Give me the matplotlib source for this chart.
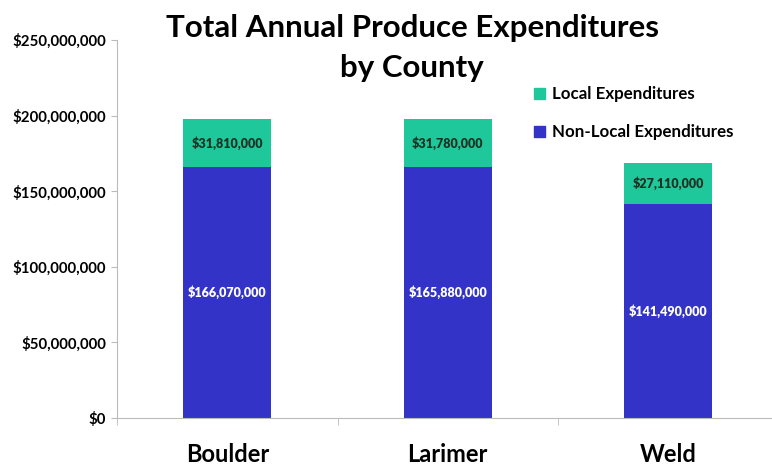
import numpy as np
import matplotlib.pyplot as plt
from matplotlib.patches import Patch
from matplotlib.ticker import FuncFormatter

# ----------------------------
# Data
# ----------------------------
counties = ["Boulder", "Larimer", "Weld"]
non_local = [166070000, 165880000, 141490000]
local = [31810000, 31780000, 27110000]

C_LOCAL = "#1fc89b"
C_NONLOCAL = "#3333c8"
FONT = ["Lato", "DejaVu Sans"]

plt.rcParams["font.family"] = FONT
plt.rcParams["font.weight"] = "bold"

fig = plt.figure(figsize=(7.72, 4.66), dpi=100)
ax = fig.add_axes([117 / 772, 1 - 418 / 466, (778.5 - 117) / 772, (418 - 40) / 466])

x = np.arange(len(counties))
w = 0.4
ax.bar(x, non_local, w, color=C_NONLOCAL, label="Non-Local Expenditures")
ax.bar(x, local, w, bottom=non_local, color=C_LOCAL, label="Local Expenditures")

# data labels
for xi, nl, lo in zip(x, non_local, local):
    ax.text(xi, nl / 2, f"${nl:,.0f}", ha="center", va="center",
            color="white", fontsize=9, fontweight="heavy")
    ax.text(xi, nl + lo / 2, f"${lo:,.0f}", ha="center", va="center",
            color="#1c3324", fontsize=9, fontweight="heavy")

ax.set_xlim(-0.5, 2.5)
ax.set_ylim(0, 250000000)
ax.set_yticks(np.arange(0, 250000001, 50000000))
ax.yaxis.set_major_formatter(FuncFormatter(lambda v, p: f"${v:,.0f}"))
ax.tick_params(axis="y", labelsize=10.8, length=4, color="#bbbbbb", pad=4)

ax.set_xticks(x)
ax.set_xticklabels(counties, fontsize=17, fontweight="bold")
ax.tick_params(axis="x", which="major", length=0, pad=18)
ax.set_xticks([-0.5, 0.5, 1.5, 2.5], minor=True)
ax.tick_params(axis="x", which="minor", length=5, color="#bbbbbb")

for s in ["top", "right"]:
    ax.spines[s].set_visible(False)
for s in ["left", "bottom"]:
    ax.spines[s].set_color("#bbbbbb")

fig.text(412 / 772, 1 - 48 / 466, "Total Annual Produce Expenditures\nby County",
         ha="center", va="center", fontsize=22.5, fontweight="bold", linespacing=1.55)

handles = [Patch(color=C_LOCAL, label="Local Expenditures"),
           Patch(color=C_NONLOCAL, label="Non-Local Expenditures")]
fig.legend(handles=handles, loc="upper left", bbox_to_anchor=(526 / 772, 1 - 78 / 466),
           frameon=False, fontsize=12.2, handlelength=0.6, handleheight=0.6,
           handletextpad=0.45, labelspacing=1.3, borderpad=0)

fig.savefig("out.png", dpi=100)
